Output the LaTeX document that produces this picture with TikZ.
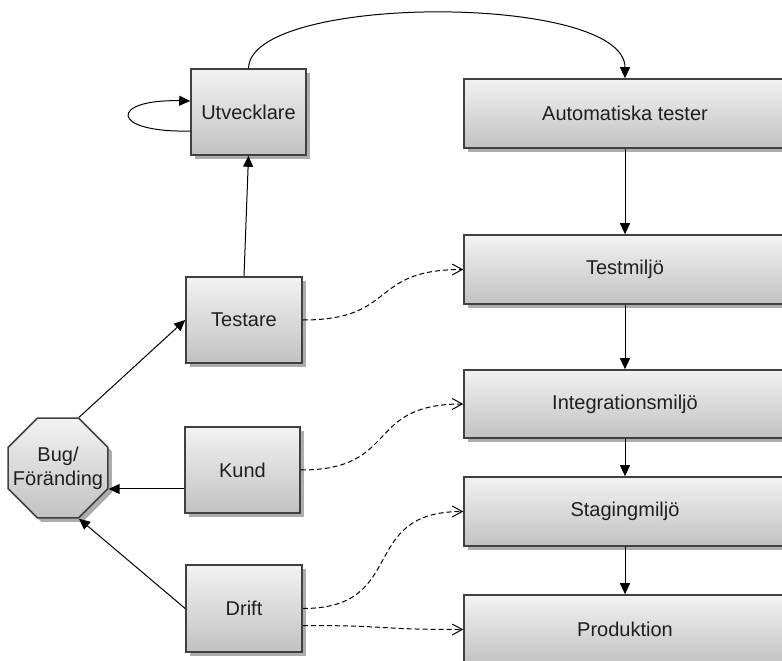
\documentclass[tikz,border=0pt]{standalone}
\usepackage{fontspec}
\setmainfont{Liberation Sans}
\usetikzlibrary{arrows.meta,shapes.geometric,shadows,calc}

\begin{document}
\begin{tikzpicture}[x=1pt,y=-1pt,
  every node/.style={font=\fontsize{20}{24}\selectfont, text=black!88},
  boxfill/.style={draw=black!75, line width=1.6pt, top color=black!5, bottom color=black!24,
    drop shadow={shadow xshift=4pt, shadow yshift=-4pt, fill=black!32, opacity=1}},
  box/.style={boxfill, rectangle, inner sep=0pt},
  flow/.style={line width=1pt, -{Triangle[length=11pt,width=10pt]}},
  feed/.style={line width=1pt, dash pattern=on 5pt off 3pt,
    -{Straight Barb[length=10pt,width=11pt]}, out=0, in=180, looseness=1.45},
]
\useasboundingbox (0,0) rectangle (782,661);
\clip (0,0) rectangle (782,661);

% actors on the left
\node[box, minimum width=115pt, minimum height=86pt] (dev)   at (248.5,112)   {Utvecklare};
\node[box, minimum width=116pt, minimum height=86pt] (tst)   at (244,320)     {Testare};
\node[box, minimum width=115pt, minimum height=86pt] (kund)  at (242.5,470)   {Kund};
\node[box, minimum width=116pt, minimum height=87pt] (drift) at (244,608.5)   {Drift};

% the bug / change request
\node[boxfill, regular polygon, regular polygon sides=8, minimum size=108pt, inner sep=0pt,
      label={[align=center]center:Bug/\\Föränding}] (bug) at (58,468) {};

% environments on the right
\node[box, minimum width=322pt, minimum height=69pt] (auto)  at (625,113.5) {Automatiska tester};
\node[box, minimum width=322pt, minimum height=69pt] (test)  at (625,269.5) {Testmiljö};
\node[box, minimum width=322pt, minimum height=68pt] (integ) at (625,404)   {Integrationsmiljö};
\node[box, minimum width=322pt, minimum height=69pt] (stag)  at (625,511.5) {Stagingmiljö};
\node[box, minimum width=322pt, minimum height=69pt] (prod)  at (625,629.5) {Produktion};

% reporting paths
\draw[flow] (bug.corner 1) -- (tst.west);
\draw[flow] (kund.west |- bug.corner 7) -- (bug.corner 7);
\draw[flow] (drift.west) -- (bug.corner 6);
\draw[flow] (tst.north) -- (dev.south);

% developer loop and hand-off to the automated tests
\draw[flow] ($(dev.west)+(0,19)$) .. controls +(-81,2) and +(-81,-2) .. ($(dev.west)+(0,-11)$);
\draw[flow] (dev.north) .. controls +(2,-75) and +(0,-85) .. (auto.north);

% deployment chain
\draw[flow] (auto.south)  -- (test.north);
\draw[flow] (test.south)  -- (integ.north);
\draw[flow] (integ.south) -- (stag.north);
\draw[flow] (stag.south)  -- (prod.north);

% where each actor works
\draw[feed] (tst.east)   to (test.west);
\draw[feed] (kund.east)  to (integ.west);
\draw[feed] (drift.east) to (stag.west);
\draw[feed] ($(drift.east)+(0,17)$) to (prod.west);
\end{tikzpicture}
\end{document}
